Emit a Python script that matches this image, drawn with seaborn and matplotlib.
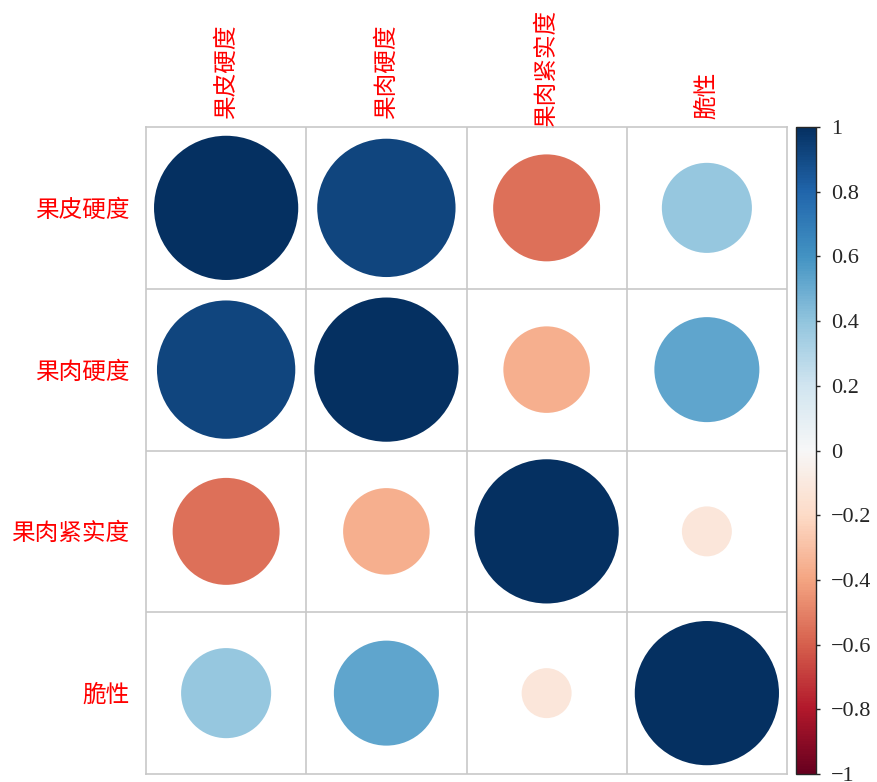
import numpy as np
import pandas as pd
import matplotlib
matplotlib.use("Agg")
import matplotlib.pyplot as plt
from matplotlib.transforms import ScaledTranslation
import seaborn as sns

# Trait names and their pairwise correlation coefficients
labels = ["果皮硬度", "果肉硬度", "果肉紧实度", "脆性"]
row_peel_hardness = [1.00, 0.92, -0.55, 0.39]
row_flesh_hardness = [0.92, 1.00, -0.36, 0.53]
row_flesh_firmness = [-0.55, -0.36, 1.00, -0.12]
row_crispness = [0.39, 0.53, -0.12, 1.00]
colorbar_ticks = [1, 0.8, 0.6, 0.4, 0.2, 0, -0.2, -0.4, -0.6, -0.8, -1]

corr = np.array([row_peel_hardness, row_flesh_hardness,
                 row_flesh_firmness, row_crispness])
n = len(labels)

records = []
for i in range(n):
    for j in range(n):
        records.append({"col": j, "row": i, "r": corr[i, j], "absr": abs(corr[i, j])})
df = pd.DataFrame(records)

sns.set_style("white")
plt.rcParams["font.family"] = ["Noto Sans CJK SC", "DejaVu Sans"]
plt.rcParams["axes.unicode_minus"] = True

W, H, DPI = 877, 782, 100
fig = plt.figure(figsize=(W / DPI, H / DPI), dpi=DPI)
ax = fig.add_axes([146 / W, 1 - 774 / H, 641 / W, 647 / H])

# Circle area proportional to |r|; full diameter ~ 0.9 of a cell
cell_px = 641 / n
max_diam_pt = 0.9 * cell_px * 72 / DPI
sns.scatterplot(data=df, x="col", y="row", hue="r", size="absr",
                palette="RdBu", hue_norm=(-1, 1),
                sizes=(0, max_diam_pt ** 2), size_norm=(0, 1),
                linewidth=0, legend=False, ax=ax, zorder=3)

ax.set_xlim(-0.5, n - 0.5)
ax.set_ylim(n - 0.5, -0.5)

grid_color = "#c8c8c8"
for k in range(1, n):
    ax.axvline(k - 0.5, color=grid_color, lw=1.2, zorder=1)
    ax.axhline(k - 0.5, color=grid_color, lw=1.2, zorder=1)
for sp in ax.spines.values():
    sp.set_color(grid_color)
    sp.set_linewidth(1.2)

ax.set_xlabel("")
ax.set_ylabel("")
ax.set_xticks(range(n))
ax.set_yticks(range(n))
ax.xaxis.tick_top()
ax.set_xticklabels(labels, rotation=90, color="red", fontsize=17)
ax.set_yticklabels(labels, color="red", fontsize=17)
ax.tick_params(axis="x", length=0, pad=6)
ax.tick_params(axis="y", length=0, pad=12)

# the longest column label sits a little lower, touching the frame
long_label = ax.get_xticklabels()[2]
long_label.set_transform(long_label.get_transform()
                         + ScaledTranslation(0, -9 / DPI, fig.dpi_scale_trans))

# Colour bar
cax = fig.add_axes([796 / W, 1 - 774 / H, 20 / W, 647 / H])
sm = matplotlib.cm.ScalarMappable(cmap="RdBu", norm=matplotlib.colors.Normalize(-1, 1))
cb = fig.colorbar(sm, cax=cax, ticks=colorbar_ticks)
cb.ax.set_yticklabels([("%g" % t).replace("-", "\u2212") for t in colorbar_ticks],
                      fontfamily=["Liberation Serif", "DejaVu Serif"], fontsize=16)
cb.ax.tick_params(length=3, width=1, pad=8)
cb.outline.set_linewidth(1)

fig.savefig("out.png", dpi=DPI)
